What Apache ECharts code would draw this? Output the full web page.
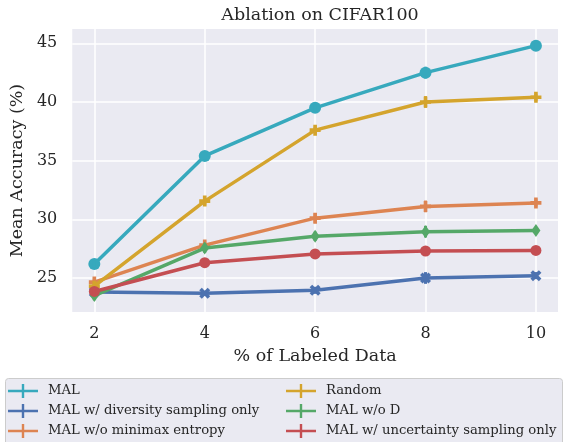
<!DOCTYPE html>
<html>
<head>
<meta charset="utf-8">
<script src="https://cdn.jsdelivr.net/npm/echarts@6/dist/echarts.min.js"></script>
<style>html,body{margin:0;padding:0;background:#fff}#c{width:565px;height:442px}</style>
</head>
<body>
<div id="c"></div>
<script>
const xValues = [2, 4, 6, 8, 10];
const xTicks = [2, 4, 6, 8, 10];
const yTicks = [25, 30, 35, 40, 45];
const seriesNames = ['MAL', 'MAL w/ diversity sampling only', 'MAL w/o minimax entropy', 'Random', 'MAL w/o D', 'MAL w/ uncertainty sampling only'];
const malValues = [26.2, 35.4, 39.5, 42.5, 44.8];
const diversityValues = [23.8, 23.7, 23.95, 25.0, 25.2];
const minimaxValues = [24.65, 27.8, 30.1, 31.1, 31.4];
const randomValues = [24.3, 31.55, 37.6, 40.0, 40.4];
const woDValues = [23.5, 27.55, 28.55, 28.95, 29.05];
const uncertaintyValues = [23.85, 26.3, 27.05, 27.3, 27.35];
const malErr = [0.3, 0.3, 0.3, 0.5, 0.25];
const diversityErr = [0.3, 0.2, 0.3, 0.5, 0.3];
const minimaxErr = [0.3, 0.3, 0.4, 0.5, 0.3];
const randomErr = [0.3, 0.3, 0.3, 0.5, 0.3];
const woDErr = [0.4, 0.4, 0.4, 0.5, 0.3];
const uncertaintyErr = [0.3, 0.3, 0.3, 0.4, 0.2];

const colors = ['#37a9bd', '#4c72b0', '#dd8452', '#d4a42d', '#55a868', '#c44e52'];
const FONT = 'DejaVu Serif';
const plusPath = 'path://M-1,-3 L1,-3 L1,-1 L3,-1 L3,1 L1,1 L1,3 L-1,3 L-1,1 L-3,1 L-3,-1 L-1,-1 Z';
const xPath = 'path://M-1.6,-3 L0,-1.4 L1.6,-3 L3,-1.6 L1.4,0 L3,1.6 L1.6,3 L0,1.4 L-1.6,3 L-3,1.6 L-1.4,0 L-3,-1.6 Z';
const diamondPath = 'path://M0,-1 L0.6,0 L0,1 L-0.6,0 Z';
const symbols = ['circle', xPath, plusPath, plusPath, diamondPath, 'circle'];
const symbolSizes = [12, 11, 11, 11, [9, 13], 11];
const legendIcon = 'path://M0,5.7 L13.8,5.7 L13.8,0 L16.2,0 L16.2,5.7 L30,5.7 L30,8.3 L16.2,8.3 L16.2,14 L13.8,14 L13.8,8.3 L0,8.3 Z';

const valueSets = [malValues, diversityValues, minimaxValues, randomValues, woDValues, uncertaintyValues];
const errSets = [malErr, diversityErr, minimaxErr, randomErr, woDErr, uncertaintyErr];

const series = [];
// grid lines through the axis scales
series.push({
  type: 'scatter', data: [[xValues[0], yTicks[0]]], symbolSize: 0, silent: true, z: 0,
  markLine: {
    silent: true, symbol: 'none', animation: false, z: 0,
    label: {show: false},
    lineStyle: {color: '#ffffff', width: 1.5, type: 'solid'},
    data: xTicks.map(v => ({xAxis: v})).concat(yTicks.map(v => ({yAxis: v})))
  }
});
seriesNames.forEach((name, i) => {
  const vals = valueSets[i], errs = errSets[i];
  series.push({
    name: name, type: 'line', z: 3 + i * 2,
    data: xValues.map((x, j) => [x, vals[j]]),
    symbol: symbols[i], symbolSize: symbolSizes[i],
    lineStyle: {width: 3.5, color: colors[i]},
    itemStyle: {color: colors[i], opacity: 1},
    emphasis: {disabled: true},
    animation: false
  });
  series.push({
    name: name, type: 'custom', z: 4 + i * 2, animation: false, silent: true,
    data: xValues.map((x, j) => [x, vals[j], errs[j]]),
    renderItem: function (params, api) {
      const x = api.value(0), y = api.value(1), e = api.value(2);
      const p1 = api.coord([x, y - e]), p2 = api.coord([x, y + e]);
      return {type: 'line', shape: {x1: p1[0], y1: p1[1], x2: p2[0], y2: p2[1]},
        style: {stroke: colors[i], lineWidth: 3}};
    }
  });
});

const legendText = {fontFamily: FONT, fontSize: 13.2, color: '#262626', padding: [0, 0, 0, 5]};
const chart = echarts.init(document.getElementById('c'), null, {renderer: 'canvas'});
chart.setOption({
  animation: false,
  color: colors,
  title: {
    text: 'Ablation on CIFAR100', left: 315, top: 1, textAlign: 'center',
    textStyle: {fontFamily: FONT, fontSize: 17.5, fontWeight: 'normal', color: '#262626'}
  },
  graphic: [{
    type: 'rect', left: 5, top: 378, z: 0,
    shape: {width: 557, height: 70, r: 3},
    style: {fill: '#eaeaf2', stroke: '#cccccc', lineWidth: 1}
  }],
  legend: [{
    orient: 'vertical', left: 8, top: 384, padding: 0, itemGap: 6,
    itemWidth: 30, itemHeight: 14, selectedMode: false,
    data: [0, 1, 2].map(i => ({name: seriesNames[i], icon: legendIcon, itemStyle: {color: colors[i]}})),
    textStyle: legendText
  }, {
    orient: 'vertical', left: 286, top: 384, padding: 0, itemGap: 6,
    itemWidth: 30, itemHeight: 14, selectedMode: false,
    data: [3, 4, 5].map(i => ({name: seriesNames[i], icon: legendIcon, itemStyle: {color: colors[i]}})),
    textStyle: legendText
  }],
  grid: {left: 72, right: 7, top: 29, bottom: 130, show: true, backgroundColor: '#eaeaf2', borderWidth: 0},
  xAxis: {
    type: 'value', min: 1.6, max: 10.4,
    name: '% of Labeled Data', nameLocation: 'middle', nameGap: 35,
    nameTextStyle: {fontFamily: FONT, fontSize: 17.5, color: '#262626'},
    axisLine: {show: false}, axisTick: {show: false, customValues: xTicks},
    splitLine: {show: false},
    axisLabel: {customValues: xTicks, fontFamily: FONT, fontSize: 16, color: '#262626', margin: 14}
  },
  yAxis: {
    type: 'value', min: 22.1, max: 46.22,
    name: 'Mean Accuracy (%)', nameLocation: 'middle', nameGap: 41,
    nameTextStyle: {fontFamily: FONT, fontSize: 17.5, color: '#262626'},
    axisLine: {show: false}, axisTick: {show: false, customValues: yTicks},
    splitLine: {show: false},
    axisLabel: {customValues: yTicks, fontFamily: FONT, fontSize: 16, color: '#262626', margin: 15}
  },
  series: series
});
</script>
</body>
</html>
